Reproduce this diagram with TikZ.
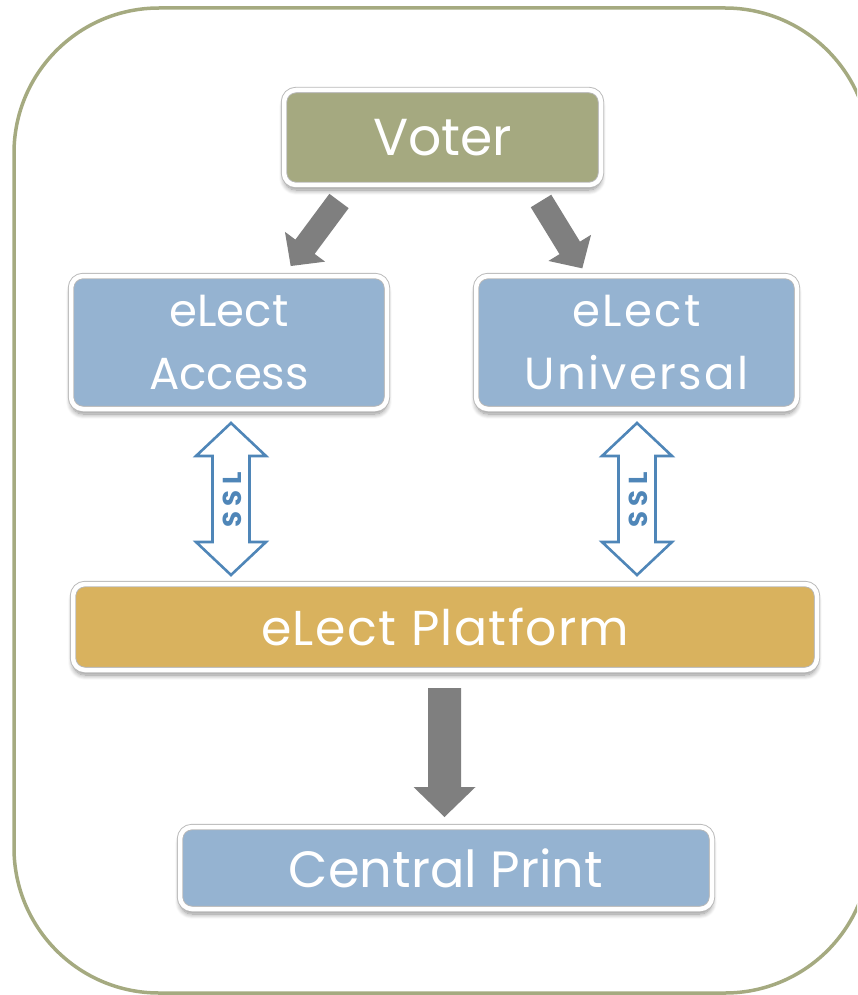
\documentclass[tikz,border=0pt]{standalone}
\usepackage{fontspec}
\setmainfont{Poppins}
\usetikzlibrary{shadows.blur,calc}
\definecolor{olivefill}{RGB}{165,169,128}
\definecolor{bluefill}{RGB}{149,179,209}
\definecolor{goldfill}{RGB}{217,178,94}
\definecolor{framecol}{RGB}{165,170,128}
\definecolor{arrowgray}{RGB}{127,127,127}
\definecolor{sslblue}{RGB}{79,134,184}
\tikzset{
  fancy/.style={rounded corners=12pt, draw=black!28, line width=0.9pt,
    double=white, double distance=4.5pt, fill=#1, text=white, align=center,
    inner sep=0pt,
    blur shadow={shadow xshift=0pt, shadow yshift=-5pt, shadow blur steps=10,
      shadow opacity=45, shadow blur radius=5pt}},
  grayarrow/.style={fill=arrowgray},
  sslshape/.style={draw=sslblue, line width=2.6pt, fill=white, line join=miter},
  ssltext/.style={text=sslblue, font=\fontsize{26}{26}\selectfont\bfseries\addfontfeatures{LetterSpace=22}, rotate=90, inner sep=0pt},
  bigtxt/.style={font=\fontsize{52}{60}\selectfont},
  midtxt/.style={font=\fontsize{45}{63}\selectfont},
}
\begin{document}
\begin{tikzpicture}[x=1pt,y=-1pt]
\useasboundingbox (0,0) rectangle (857,995);
\clip (0,0) rectangle (857,995);
% outer frame
\draw[framecol, line width=3.5pt, rounded corners=145pt] (14,8) rectangle (870,993);

% boxes
\node[fancy=olivefill, minimum width=317pt, minimum height=95pt, bigtxt] (voter) at (442.5,137.5) {Voter};
\node[fancy=bluefill, minimum width=316pt, minimum height=133pt, midtxt] (access) at (229,342.5) {eLect\\Access};
\node[fancy=bluefill, minimum width=321pt, minimum height=133pt, font=\fontsize{45}{63}\selectfont\addfontfeatures{LetterSpace=5}] (universal) at (636.5,342.5) {eLect\\Universal};
\node[fancy=goldfill, minimum width=744pt, minimum height=86pt, font=\fontsize{49}{55}\selectfont\addfontfeatures{LetterSpace=3}] (platform) at (445,627) {eLect Platform};
\node[fancy=bluefill, minimum width=532pt, minimum height=82pt, font=\fontsize{51}{55}\selectfont] (central) at (446,868) {Central Print};

% gray arrows from Voter
\coordinate (la) at (339,201);
\coordinate (ra) at (541,201);
\fill[grayarrow, shift={(la)}, rotate=-36.6] (-12,0) -- (-12,57) -- (-25,57) -- (0,81) -- (25,57) -- (12,57) -- (12,0) -- cycle;
\fill[grayarrow, shift={(ra)}, rotate=31.5] (-12,0) -- (-12,55) -- (-25,55) -- (0,79) -- (25,55) -- (12,55) -- (12,0) -- cycle;

% SSL double arrows
\coordinate (sslA) at (231,423);
\coordinate (sslB) at (637,423);
\draw[sslshape] (sslA) -- ++(35,33) -- ++(-16.5,0) -- ++(0,86) -- ++(16.5,0) -- ++(-35,33) -- ++(-35,-33) -- ++(16.5,0) -- ++(0,-86) -- ++(-16.5,0) -- cycle;
\draw[sslshape] (sslB) -- ++(35,33) -- ++(-16.5,0) -- ++(0,86) -- ++(16.5,0) -- ++(-35,33) -- ++(-35,-33) -- ++(16.5,0) -- ++(0,-86) -- ++(-16.5,0) -- cycle;
\node[ssltext] (sslta) at ($(sslA)+(1,77)$) {SSL};
\node[ssltext] (ssltb) at ($(sslB)+(1,77)$) {SSL};

% down arrow platform -> central
\coordinate (da) at (444.5,688);
\fill[grayarrow] ($(da)+(-16.5,0)$) -- ++(0,99) -- ++(-14.5,0) -- ++(31,30) -- ++(31,-30) -- ++(-14.5,0) -- ++(0,-99) -- cycle;
\end{tikzpicture}
\end{document}
